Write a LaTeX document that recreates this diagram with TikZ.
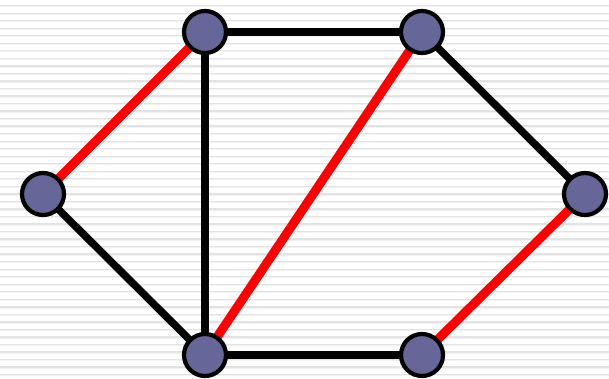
\documentclass[tikz,border=0pt]{standalone}
\begin{document}
\begin{tikzpicture}[x=1pt,y=-1pt,
  vtx/.style={circle,draw=black,line width=4.2pt,fill={rgb,255:red,102;green,102;blue,153},minimum size=42pt,inner sep=0pt},
  blk/.style={draw=black,line width=7.5pt},
  redge/.style={draw=red,line width=9pt}]
\useasboundingbox (0,0) rectangle (609,378);
\fill[white] (0,0) rectangle (609,378);
\foreach \i in {0,...,50} {
  \fill[black!11] (0,{5+7.53*\i}) rectangle (609,{6.3+7.53*\i});
  \fill[black!5] (0,{6.3+7.53*\i}) rectangle (609,{7.2+7.53*\i});
}
\coordinate (pl) at (43,194);
\coordinate (ptl) at (205,32);
\coordinate (ptr) at (422,32);
\coordinate (pr) at (585,194);
\coordinate (pbl) at (205,355);
\coordinate (pbr) at (422,355);
\draw[blk] (pl) -- (pbl);
\draw[blk] (ptl) -- (pbl);
\draw[blk] (ptl) -- (ptr);
\draw[blk] (ptr) -- (pr);
\draw[blk] (pbl) -- (pbr);
\draw[redge] (pl) -- (ptl);
\draw[redge] (pbl) -- (ptr);
\draw[redge] (pbr) -- (pr);
\node[vtx] (l) at (pl) {};
\node[vtx] (tl) at (ptl) {};
\node[vtx] (tr) at (ptr) {};
\node[vtx] (r) at (pr) {};
\node[vtx] (bl) at (pbl) {};
\node[vtx] (br) at (pbr) {};
\end{tikzpicture}
\end{document}
